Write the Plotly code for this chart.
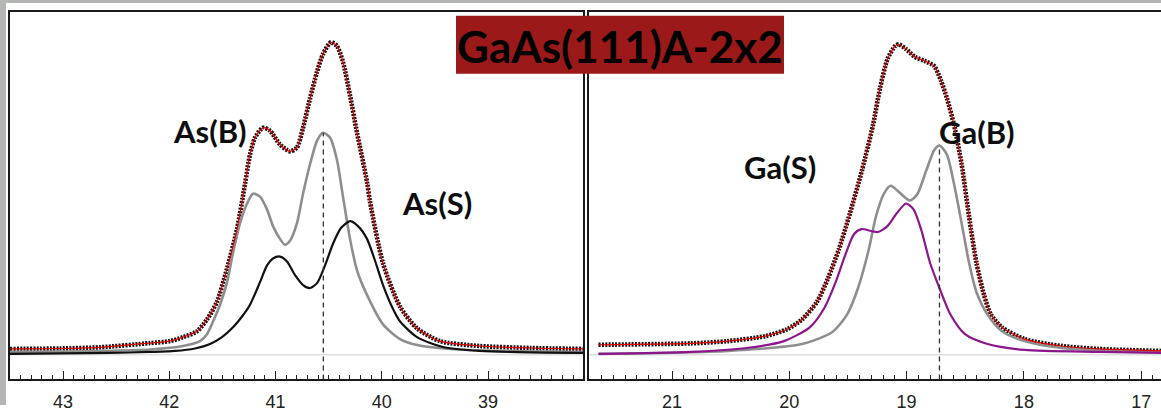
import plotly.graph_objects as go

W, H = 1161, 412

# ---- As 3d region (binding energy, eV) ----
as_energy = [43.499, 43.028, 42.652, 42.181, 41.993, 41.871, 41.739, 41.645, 41.551, 41.456,
             41.362, 41.287, 41.240, 41.193, 41.118, 41.052, 40.958, 40.864, 40.798, 40.741,
             40.675, 40.609, 40.553, 40.478, 40.421, 40.365, 40.299, 40.233, 40.139, 40.111,
             39.988, 39.828, 39.668, 39.452, 39.075, 38.605, 38.106]
as_total = [6, 6.5, 7.7, 12, 14, 18, 24, 36, 54, 88,
            128, 174, 204, 221, 231, 228, 214, 207, 211, 231,
            261, 288, 306, 318, 314, 298, 264, 226, 176, 156,
            93, 49, 27, 14, 9, 7, 6]

as_bulk_energy = [43.499, 43.028, 42.652, 42.181, 41.871, 41.711, 41.645, 41.588, 41.522, 41.456,
                  41.400, 41.334, 41.268, 41.212, 41.146, 41.080, 41.024, 40.958, 40.911, 40.864,
                  40.798, 40.741, 40.675, 40.609, 40.553, 40.487, 40.421, 40.365, 40.299, 40.233,
                  40.139, 39.988, 39.828, 39.668, 39.358, 38.887, 38.106]
as_bulk = [3, 3.5, 4, 5.5, 9, 14, 21, 34, 51, 74,
           104, 134, 154, 164, 161, 148, 131, 118, 112, 116,
           134, 164, 194, 218, 226, 221, 198, 161, 118, 86,
           61, 31, 16, 10, 6, 4, 3]

as_surf_energy = [43.499, 43.028, 42.558, 42.181, 41.946, 41.758, 41.616, 41.504, 41.400, 41.315,
                  41.240, 41.146, 41.080, 41.024, 40.958, 40.892, 40.816, 40.741, 40.675, 40.609,
                  40.534, 40.459, 40.384, 40.299, 40.224, 40.139, 40.064, 39.988, 39.904, 39.828,
                  39.668, 39.424, 39.075, 38.605, 38.106]
as_surf = [1, 1.5, 2, 3, 4, 6.5, 11, 18, 28, 39,
           51, 74, 91, 98, 100, 95, 81, 71, 68, 73,
           91, 113, 129, 136, 131, 118, 96, 71, 49, 34,
           18, 8, 4, 2.5, 2]

as_bulk_peak = [40.55, 226]

# ---- Ga 3d region (binding energy, eV) ----
ga_energy = [21.627, 20.838, 20.523, 20.207, 20.020, 19.892, 19.764, 19.670, 19.576, 19.483,
             19.380, 19.286, 19.227, 19.163, 19.099, 19.068, 19.005, 18.928, 18.847, 18.766,
             18.707, 18.656, 18.596, 18.531, 18.468, 18.405, 18.340, 18.281, 18.187, 17.994,
             17.678, 17.362, 16.831]
ga_total = [10.3, 11.7, 14, 19, 26, 36, 54, 78, 108, 144,
            188, 234, 271, 301, 314, 316, 311, 303, 299, 294,
            279, 261, 234, 194, 141, 94, 61, 41, 28, 16,
            9, 6, 4]

ga_bulk_energy = [21.627, 20.523, 19.892, 19.636, 19.508, 19.414, 19.321, 19.261, 19.193, 19.137,
                  19.068, 18.974, 18.911, 18.831, 18.766, 18.720, 18.657, 18.596, 18.531, 18.468,
                  18.405, 18.310, 18.187, 17.994, 17.678, 16.831]
ga_bulk = [1, 4, 11, 23, 41, 68, 108, 141, 164, 172,
           166, 157, 163, 188, 208, 213, 204, 174, 134, 94,
           64, 41, 24, 14, 7, 3]

ga_surf_energy = [21.627, 20.838, 20.363, 20.047, 19.826, 19.700, 19.605, 19.525, 19.448, 19.384,
                  19.303, 19.244, 19.163, 19.084, 19.005, 18.941, 18.877, 18.801, 18.720, 18.626,
                  18.502, 18.310, 17.994, 17.362, 16.831]
ga_surf = [1, 3, 7, 14, 28, 48, 74, 101, 123, 128,
           126, 125, 131, 144, 154, 148, 128, 94, 68, 41,
           21, 11, 5, 3, 2]

ga_bulk_peak = [18.72, 213]

major_ticks_as = [43, 42, 41, 40, 39]
major_ticks_ga = [21, 20, 19, 18, 17]

fig = go.Figure()

SMOOTH = 0.7


def add_panel(xa, ya, e_tot, tot, comps, peak):
    # measured points (beaded black) with fitted envelope (red) on top
    fig.add_trace(go.Scatter(x=e_tot, y=tot, mode="lines", xaxis=xa, yaxis=ya,
                             line=dict(color="#111111", width=4.6, dash="2px,1.3px", shape="spline", smoothing=SMOOTH),
                             hoverinfo="skip", showlegend=False))
    for e, v, col, w in comps:
        fig.add_trace(go.Scatter(x=e, y=v, mode="lines", xaxis=xa, yaxis=ya,
                                 line=dict(color=col, width=w, shape="spline", smoothing=SMOOTH),
                                 hoverinfo="skip", showlegend=False))
    fig.add_trace(go.Scatter(x=e_tot, y=tot, mode="lines", xaxis=xa, yaxis=ya,
                             line=dict(color="#e00000", width=1.2, shape="spline", smoothing=SMOOTH),
                             hoverinfo="skip", showlegend=False))
    # bulk peak marker
    fig.add_trace(go.Scatter(x=[peak[0], peak[0]], y=[-25, peak[1]], mode="lines", xaxis=xa, yaxis=ya,
                             line=dict(color="#333333", width=1.3, dash="5px,4px"),
                             hoverinfo="skip", showlegend=False))


add_panel("x", "y", as_energy, as_total,
          [(as_bulk_energy, as_bulk, "#8e8e8e", 2.6), (as_surf_energy, as_surf, "#111111", 2.2)],
          as_bulk_peak)
add_panel("x2", "y2", ga_energy, ga_total,
          [(ga_bulk_energy, ga_bulk, "#8e8e8e", 2.6), (ga_surf_energy, ga_surf, "#8b168b", 2.2)],
          ga_bulk_peak)

ydom = [26 / H, 400 / H]
axis_common = dict(showgrid=False, zeroline=False, showline=True, linecolor="#1a1a1a", linewidth=2,
                   ticks="inside", ticklen=8, tickwidth=1.3, tickcolor="#222222", ticklabelstandoff=5,
                   tickfont=dict(family="Liberation Sans, Arial", size=18, color="#222222"),
                   minor=dict(dtick=0.1, ticks="inside", ticklen=4, tickwidth=1.1, tickcolor="#222222"))

fig.update_layout(
    width=W, height=H,
    margin=dict(l=0, r=0, t=0, b=0),
    paper_bgcolor="white", plot_bgcolor="white",
    xaxis=dict(domain=[10 / W, 583 / W], range=[43.499, 38.106], tickvals=major_ticks_as,
               mirror=True, anchor="y", **axis_common),
    yaxis=dict(domain=ydom, range=[-25, 349], showgrid=False, zeroline=False, showticklabels=False,
               showline=True, mirror=True, linecolor="#1a1a1a", linewidth=2, ticks="", anchor="x"),
    xaxis2=dict(domain=[589 / W, 1.0], range=[21.708, 16.831], tickvals=major_ticks_ga,
                mirror=True, anchor="y2", **axis_common),
    yaxis2=dict(domain=ydom, range=[-25, 349], showgrid=False, zeroline=False, showticklabels=False,
                showline=True, mirror=False, linecolor="#1a1a1a", linewidth=2, ticks="", anchor="x2"),
)

shapes = [
    # thin zero-intensity lines
    dict(type="line", xref="x domain", yref="y", x0=0, x1=1, y0=0, y1=0,
         line=dict(color="#cfcfcf", width=1), layer="below"),
    dict(type="line", xref="x2 domain", yref="y2", x0=0, x1=1, y0=0, y1=0,
         line=dict(color="#cfcfcf", width=1), layer="below"),
    # window frame strips
    dict(type="rect", xref="paper", yref="paper", x0=0, x1=6 / W, y0=0, y1=1,
         fillcolor="#b4b6b4", line=dict(width=0), layer="above"),
    dict(type="rect", xref="paper", yref="paper", x0=0, x1=1, y0=1 - 3 / H, y1=1,
         fillcolor="#b4b6b4", line=dict(width=0), layer="above"),
    # title banner
    dict(type="rect", xref="paper", yref="paper", x0=456 / W, x1=784 / W, y0=1 - 75 / H, y1=1 - 16 / H,
         fillcolor="#9b1919", line=dict(width=0), layer="above"),
]
fig.update_layout(shapes=shapes)

label_font = dict(family="Lato, Carlito, Calibri, sans-serif", size=31, color="#0d0d0d")
annotations = [
    dict(text="<b>GaAs(111)A-2x2</b>", xref="paper", yref="paper", x=620 / W, y=1 - 47 / H,
         showarrow=False, xanchor="center", yanchor="middle",
         font=dict(family="Lato, Carlito, Calibri, sans-serif", size=44, color="#000000")),
    dict(text="<b>As(B)</b>", xref="x", yref="y", x=41.616, y=228, showarrow=False, font=label_font),
    dict(text="<b>As(S)</b>", xref="x", yref="y", x=39.48, y=154, showarrow=False, font=label_font),
    dict(text="<b>Ga(S)</b>", xref="x2", yref="y2", x=20.079, y=191, showarrow=False, font=label_font),
    dict(text="<b>Ga(B)</b>", xref="x2", yref="y2", x=18.40, y=227, showarrow=False, font=label_font),
]
fig.update_layout(annotations=annotations)

fig.write_html("out.html")
